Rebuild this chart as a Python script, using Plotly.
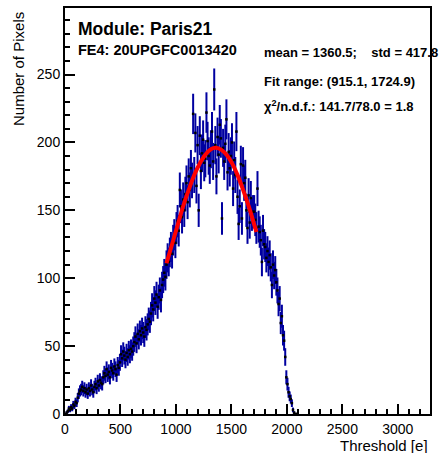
import numpy as np
import plotly.graph_objects as go

# histogram: 10 e bins, centres 5 ... 2095
bin_centers = list(range(5, 2100, 10))
counts = [
    0, 1, 2, 4, 3, 5, 4, 7, 6, 9,                      # 0-100
    8, 12, 15, 17, 18, 20, 17, 19, 16, 18,             # 100-200
    15, 19, 17, 21, 18, 16, 20, 22, 19, 24,            # 200-300
    21, 25, 23, 22, 27, 30, 28, 33, 29, 31,            # 300-400
    27, 34, 32, 30, 35, 33, 29, 36, 34, 38,            # 400-500
    44, 41, 46, 43, 40, 45, 42, 47, 44, 48,            # 500-600
    46, 50, 53, 57, 52, 59, 55, 61, 58, 63,            # 600-700
    60, 57, 64, 62, 66, 70, 68, 74, 80, 77,            # 700-800
    85, 82, 88, 79, 86, 91, 84, 95, 99, 104,           # 800-900
    101, 110, 115, 112, 119, 123, 118, 128, 132, 126,  # 900-1000
    137, 142, 135, 165, 153, 145, 158, 150, 162, 170,  # 1000-1100
    156, 175, 165, 181, 172, 221, 176, 207, 168, 198,  # 1100-1200
    150, 205, 179, 192, 202, 185, 188, 222, 201, 190,  # 1200-1300
    183, 195, 208, 186, 239, 198, 175, 204, 191, 213,  # 1300-1400
    203, 144, 196, 186, 199, 217, 178, 193, 181, 190,  # 1400-1500
    200, 166, 187, 176, 208, 160, 140, 153, 184, 144,  # 1500-1600
    183, 170, 174, 150, 137, 161, 141, 159, 147, 149,  # 1600-1700
    149, 143, 137, 166, 138, 134, 128, 112, 135, 125,  # 1700-1800
    123, 115, 120, 112, 117, 108, 95, 110, 102, 106,   # 1800-1900
    97, 91, 81, 85, 67, 72, 58, 54, 42, 27,            # 1900-2000
    22, 16, 13, 11, 8, 3, 1, 0, 0, 0,                  # 2000-2100
]

# gaussian fit curve
fit_x = [915, 965, 1015, 1065, 1115, 1165, 1215, 1265, 1315, 1360,
         1410, 1460, 1510, 1560, 1610, 1660, 1725]
fit_y = [111, 125, 139, 153, 165, 176, 184.5, 191, 195, 196,
         194.5, 190.5, 184, 175, 164, 152, 134]

x_ticks = [0, 500, 1000, 1500, 2000, 2500, 3000]
y_ticks = [0, 50, 100, 150, 200, 250]

FONT = "Liberation Sans, Arial, Helvetica, sans-serif"
L, R, T, B = 65, 430, 6, 414


def px(xp, yp):
    # pixel position in the page -> paper coordinates
    return (xp - L) / (R - L), (B - yp) / (B - T)


errors = np.sqrt(np.array(counts, dtype=float))

fig = go.Figure()

fig.add_trace(go.Scatter(
    x=bin_centers, y=counts, mode="markers",
    marker=dict(symbol="square", size=2.5, color="black", line=dict(width=0)),
    error_y=dict(type="data", array=errors, color="#0000a0", thickness=2, width=0),
    showlegend=False,
))

fig.add_trace(go.Scatter(
    x=fit_x, y=fit_y, mode="lines",
    line=dict(color="#ff0000", width=4, shape="spline"),
    showlegend=False,
))

texts = [
    ("Module: Paris21", 76, 27, 17.5),
    ("FE4: 20UPGFC0013420", 76, 48, 14.5),
    ("mean = 1360.5;\u00a0\u00a0\u00a0\u00a0std = 417.8", 262, 51, 13),
    ("Fit range: (915.1, 1724.9)", 262, 80, 13),
    ("\u03c7<sup>2</sup>/n.d.f.: 141.7/78.0 = 1.8", 262, 104, 13),
]
for txt, xp, yp, size in texts:
    ax, ay = px(xp, yp)
    fig.add_annotation(
        x=ax, y=ay, xref="paper", yref="paper", text=f"<b>{txt}</b>",
        showarrow=False, xanchor="left", yanchor="middle",
        font=dict(family=FONT, size=size, color="black"),
    )

ax, ay = px(19, 8)
fig.add_annotation(
    x=ax, y=ay, xref="paper", yref="paper", text="Number of Pixels",
    textangle=-90, showarrow=False, xanchor="center", yanchor="top",
    font=dict(family=FONT, size=15, color="black"),
)
ax, ay = px(430, 446)
fig.add_annotation(
    x=ax, y=ay, xref="paper", yref="paper", text="Threshold [e]",
    showarrow=False, xanchor="right", yanchor="middle",
    font=dict(family=FONT, size=15, color="black"),
)

axis_common = dict(
    showline=True, linecolor="black", linewidth=2, mirror=True,
    ticks="inside", ticklen=10, tickwidth=1.5, tickcolor="black",
    showgrid=False, zeroline=False,
    tickfont=dict(family=FONT, size=14, color="black"),
)

fig.update_layout(
    width=440, height=453,
    margin=dict(l=L, r=440 - R, t=T, b=453 - B),
    plot_bgcolor="white", paper_bgcolor="white",
    xaxis=dict(range=[0, 3290], tickvals=x_ticks, ticklabelstandoff=1,
               minor=dict(ticks="inside", dtick=100, ticklen=5, tickcolor="black", tickwidth=1.5),
               **axis_common),
    yaxis=dict(range=[0, 299], tickvals=y_ticks,
               minor=dict(ticks="inside", dtick=10, ticklen=5, tickcolor="black", tickwidth=1.5),
               **axis_common),
)

# the page body has a default 8px margin; drop it so the figure sits at 0,0
fig.write_html("out.html", config={"displayModeBar": False},
               post_script="document.body.style.margin='0px';")
